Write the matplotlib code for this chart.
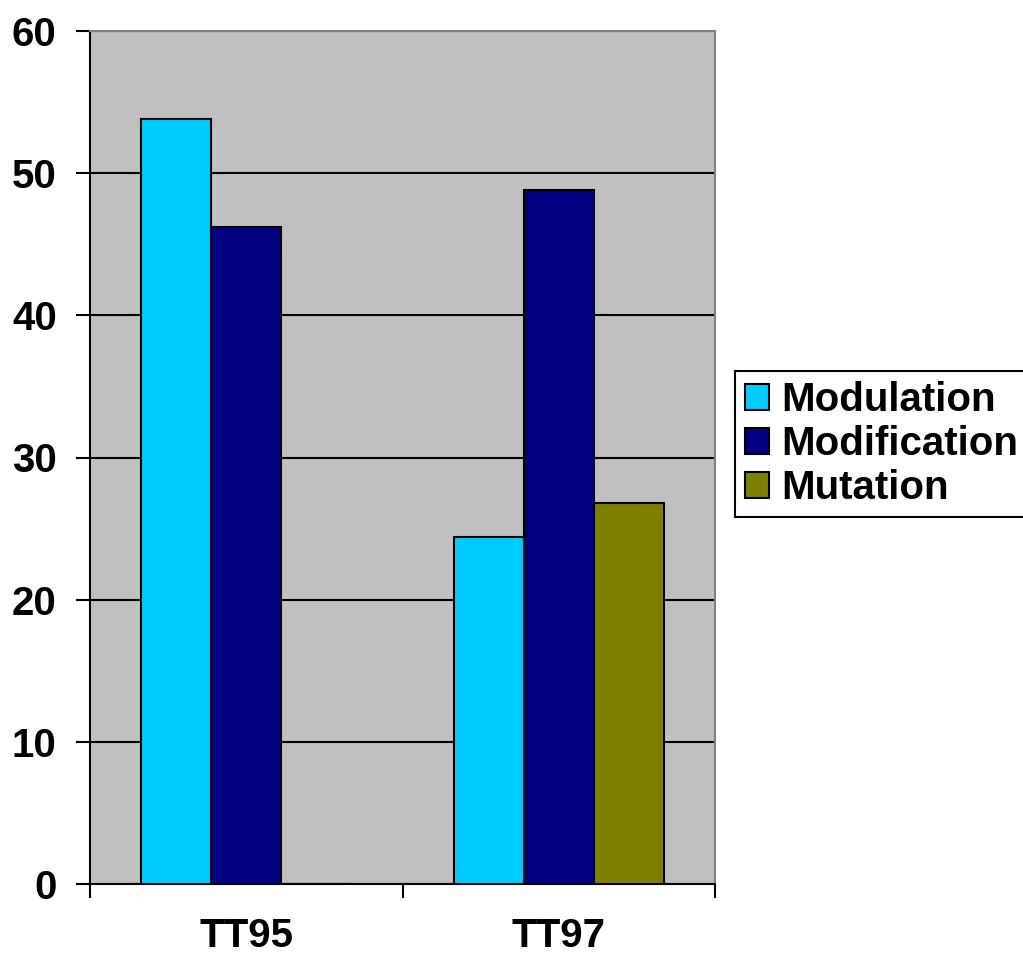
import numpy as np
import matplotlib
matplotlib.use("Agg")
import matplotlib.pyplot as plt

categories = ["TT95", "TT97"]
series = ["Modulation", "Modification", "Mutation"]
modulation = [53.8, 24.4]
modification = [46.2, 48.8]
mutation = [0, 26.8]
colors = ["#00CCFF", "#000080", "#808000"]

plt.rcParams["font.family"] = ["Liberation Sans", "DejaVu Sans"]
plt.rcParams["font.weight"] = "bold"

fig = plt.figure(figsize=(10.23, 9.6), dpi=100)
ax = fig.add_axes([90 / 1023, 1 - 884 / 960, 625 / 1023, 853 / 960])
ax.set_facecolor("#C0C0C0")

x = np.arange(len(categories))
w = 0.224
for i, (vals, name) in enumerate(zip([modulation, modification, mutation], series)):
    ax.bar(x + (i - 1) * w, vals, w, color=colors[i], edgecolor="black",
           linewidth=1.5, label=name, zorder=3)

ax.set_xlim(-0.5, 1.5)
ax.set_ylim(0, 60)
ax.set_yticks(range(0, 61, 10))
ax.yaxis.grid(True, color="black", linewidth=1.5, zorder=1)
ax.set_axisbelow(True)

ax.set_xticks([-0.5, 0.5, 1.5])
ax.set_xticklabels([])
ax.set_xticks(x, minor=True)
ax.set_xticklabels(categories, minor=True)
ax.tick_params(axis="x", which="minor", length=0, pad=24, labelsize=29)
ax.tick_params(axis="x", which="major", direction="out", length=10, width=1.5)
ax.tick_params(axis="y", direction="out", length=10, width=1.5, pad=14, labelsize=29)
for lab in ax.get_xticklabels(minor=True) + ax.get_yticklabels():
    lab.set_fontweight("bold")

for s in ["left", "bottom"]:
    ax.spines[s].set_color("black")
    ax.spines[s].set_linewidth(1.5)
for s in ["top", "right"]:
    ax.spines[s].set_color("#808080")
    ax.spines[s].set_linewidth(1.5)

leg = fig.legend(loc="upper left", bbox_to_anchor=(735 / 1023, 1 - 371 / 960),
                 borderaxespad=0, fancybox=False, framealpha=1, edgecolor="black",
                 prop={"size": 29, "weight": "bold"}, handlelength=0.6,
                 handleheight=0.6, handletextpad=0.3, labelspacing=0.15,
                 borderpad=0.25)
leg.get_frame().set_linewidth(1.5)

fig.savefig("out.png", dpi=100)
